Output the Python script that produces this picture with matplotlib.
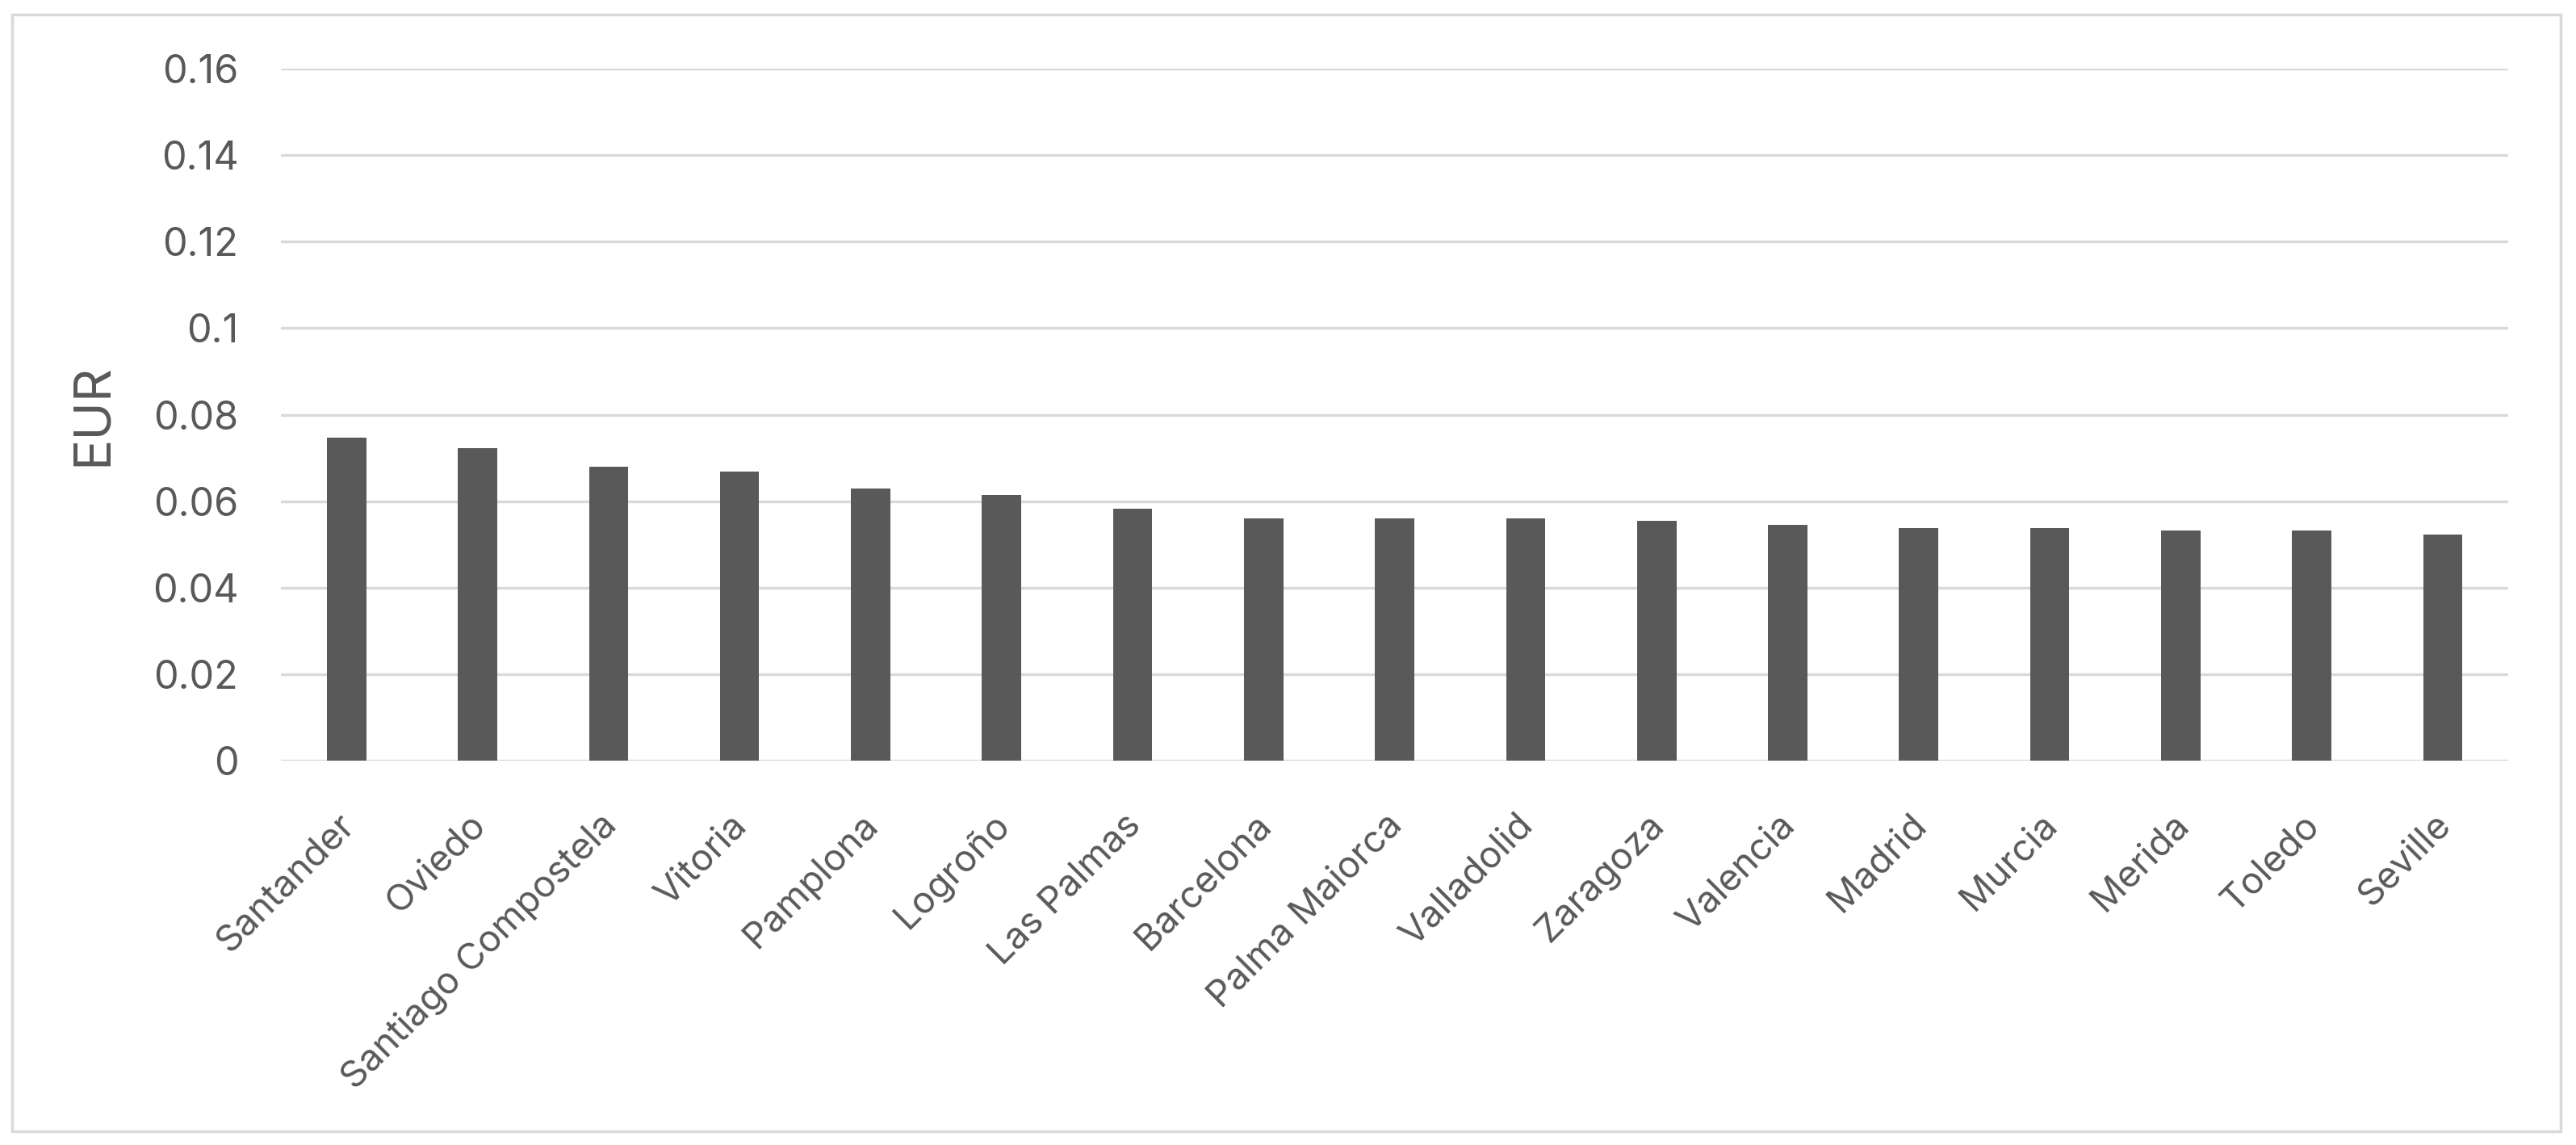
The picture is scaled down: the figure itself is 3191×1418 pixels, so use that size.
import matplotlib
matplotlib.use("Agg")
from matplotlib import pyplot as plt
from matplotlib.patches import Rectangle
from matplotlib.transforms import ScaledTranslation

# data
cities = ["Santander", "Oviedo", "Santiago Compostela", "Vitoria", "Pamplona",
          "Logroño", "Las Palmas", "Barcelona", "Palma Maiorca", "Valladolid",
          "Zaragoza", "Valencia", "Madrid", "Murcia", "Merida", "Toledo", "Seville"]
eur = [0.0746, 0.0723, 0.0680, 0.0669, 0.0630, 0.0615, 0.0582, 0.0560, 0.0560,
       0.0560, 0.0555, 0.0545, 0.0538, 0.0538, 0.0533, 0.0533, 0.0522]
yticks = [0, 0.02, 0.04, 0.06, 0.08, 0.1, 0.12, 0.14, 0.16]
ytick_labels = ["0", "0.02", "0.04", "0.06", "0.08", "0.1", "0.12", "0.14", "0.16"]

txt_col = '#595959'
bar_col = '#595959'
grid_col = '#D9D9D9'

plt.rcParams['font.family'] = ['Inter', 'DejaVu Sans']

fig = plt.figure(figsize=(31.91, 14.18), dpi=100)
fig.patch.set_facecolor('white')
ax = fig.add_axes([0.1091, 0.3357, 0.8646, 0.6043])

x = list(range(len(cities)))
ax.bar(x, eur, width=0.30, color=bar_col, zorder=3)

for v in yticks:
    ax.axhline(v, color=grid_col, lw=2.4, zorder=1)

ax.set_xlim(-0.5, len(cities) - 0.5)
ax.set_ylim(0, 0.16)
ax.set_yticks(yticks)
ax.set_yticklabels(ytick_labels)
ax.set_xticks(x)
ax.set_xticklabels(cities, rotation=45, ha='right', va='top', rotation_mode='anchor')
ax.tick_params(axis='y', length=0, pad=38, labelsize=35, labelcolor=txt_col)
ax.tick_params(axis='x', length=0, pad=42, labelsize=33, labelcolor=txt_col)
# slanted labels end just right of the tick in the original
shift = ScaledTranslation(-0.12, 0, fig.dpi_scale_trans)
for lab in ax.get_xticklabels():
    lab.set_transform(lab.get_transform() + shift)
for s in ax.spines.values():
    s.set_visible(False)
ax.set_ylabel('EUR', fontsize=46, color=txt_col, labelpad=32)

# chart border
fig.patches.append(Rectangle((15 / 3191, 17 / 1418), 3157 / 3191, 1383 / 1418,
                             transform=fig.transFigure, fill=False,
                             edgecolor=grid_col, lw=2.5))

fig.savefig('out.png', dpi=100)
plt.close('all')
